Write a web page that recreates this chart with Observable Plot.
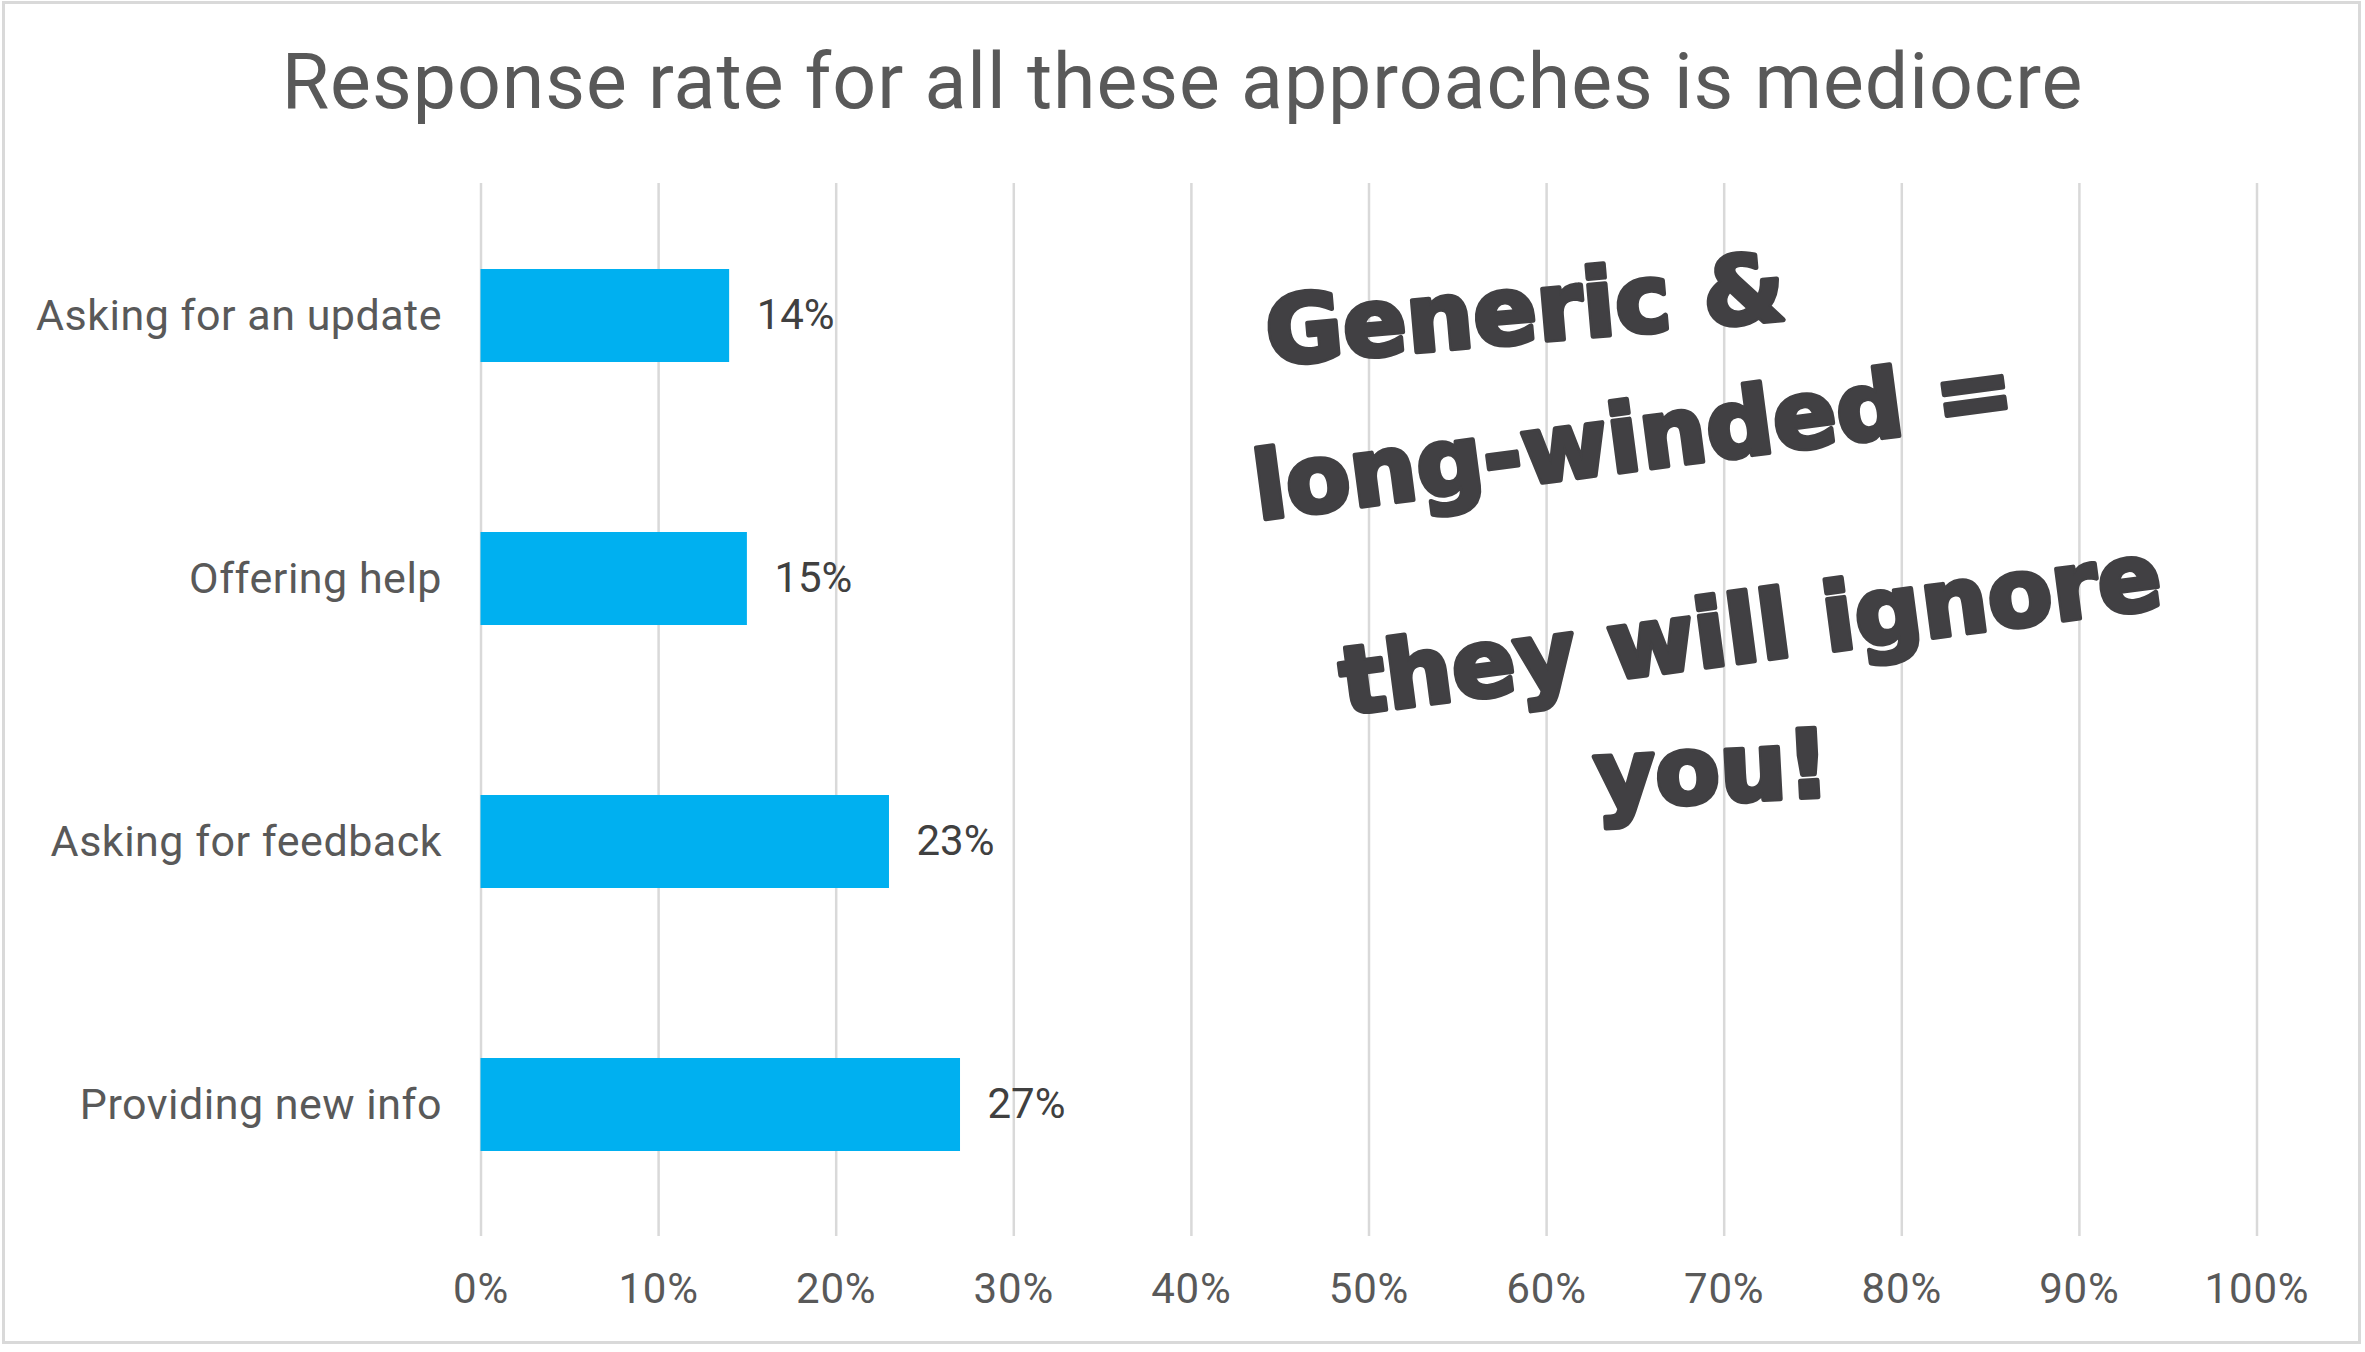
<!DOCTYPE html>
<html>
<head>
<meta charset="utf-8">
<script src="https://cdn.jsdelivr.net/npm/d3@7"></script>
<script src="https://cdn.jsdelivr.net/npm/@observablehq/plot@0.6"></script>
<style>
  html, body { margin: 0; padding: 0; background: #ffffff; }
  #wrap { position: relative; width: 2365px; height: 1352px; overflow: hidden; background: #fff; }
  #frame { position: absolute; left: 2px; top: 1px; width: 2359px; height: 1343px; box-sizing: border-box; border: 3px solid #d9d9d9; pointer-events: none; }
  #title { position: absolute; left: 0; top: 44px; width: 2365px; text-align: center; font-family: Roboto, sans-serif; font-size: 77px; line-height: 76px; letter-spacing: 1px; color: #595959; white-space: nowrap; }
  #chart { position: absolute; left: 0; top: 0; }
  g[aria-label="y-axis tick label"] text { letter-spacing: 0.5px; }
  g[aria-label="x-axis tick label"] text { letter-spacing: 0.8px; }
  g[aria-label="value-label"] text { letter-spacing: 0.6px; }
</style>
</head>
<body>
<div id="wrap">
  <div id="chart"></div>
  <div id="title">Response rate for all these approaches is mediocre</div>
  <div id="frame"></div>
</div>
<script>
// ---- data ----
const categories = ["Asking for an update", "Offering help", "Asking for feedback", "Providing new info"];
const values = [0.14, 0.15, 0.23, 0.27];
const xTicks = [0, 0.1, 0.2, 0.3, 0.4, 0.5, 0.6, 0.7, 0.8, 0.9, 1.0];
const xTickLabels = ["0%", "10%", "20%", "30%", "40%", "50%", "60%", "70%", "80%", "90%", "100%"];
const annotationLines = ["Generic &", "long-winded =", "they will ignore", "you!"];

// ---- layout for the handwritten note (x in data units, anchored to a row) ----
const noteX = [0.588, 0.649, 0.715, 0.693];
const noteRow = [0, 0, 1, 2];
const noteDy = [-4, 124, 52, -70];
const noteRotate = [-5, -7.5, -7.5, -3];
const noteLength = [550, 720, 820, 272];

const rows = categories.map((c, i) => ({category: c, value: values[i]}));

const noteMarks = annotationLines.map((line, i) =>
  Plot.text([{label: line, x: noteX[i], y: categories[noteRow[i]]}], {
    x: "x", y: "y", text: "label",
    dy: noteDy[i], rotate: noteRotate[i],
    textAnchor: "middle", lineAnchor: "middle",
    fontFamily: "DejaVu Sans", fontWeight: "bold", fontSize: 94,
    fill: "#414043", stroke: "#414043", strokeWidth: 5, strokeLinejoin: "round",
    ariaLabel: "annotation-" + i
  })
);

const svg = Plot.plot({
  width: 2365,
  height: 1352,
  marginLeft: 480.5,
  marginRight: 108.5,
  marginTop: 183,
  marginBottom: 116,
  style: {fontFamily: "Roboto, sans-serif", color: "#595959", background: "transparent"},
  x: {domain: [0, 1]},
  y: {domain: categories, paddingInner: 0.647, paddingOuter: 0.3235, align: 0.5},
  marks: [
    Plot.gridX(xTicks, {stroke: "#d9d9d9", strokeOpacity: 1, strokeWidth: 2.5}),
    Plot.barX(rows, {x: "value", y: "category", fill: "#00b0f0"}),
    Plot.text(rows, {x: "value", y: "category", text: d => Math.round(d.value * 100) + "%",
      dx: 27, textAnchor: "start", lineAnchor: "middle", fontSize: 42, fill: "#404040", ariaLabel: "value-label"}),
    Plot.axisX({ticks: xTicks, tickFormat: d => xTickLabels[xTicks.indexOf(d)], tickSize: 0, tickPadding: 37, fontSize: 42, label: null}),
    Plot.axisY({tickSize: 0, tickPadding: 39, fontSize: 43, label: null}),
    ...noteMarks
  ]
});

document.getElementById("chart").appendChild(svg);

noteLength.forEach((len, i) => {
  d3.select(svg).selectAll(`g[aria-label="annotation-${i}"] text`)
    .attr("textLength", len)
    .attr("lengthAdjust", "spacingAndGlyphs");
});
</script>
</body>
</html>
